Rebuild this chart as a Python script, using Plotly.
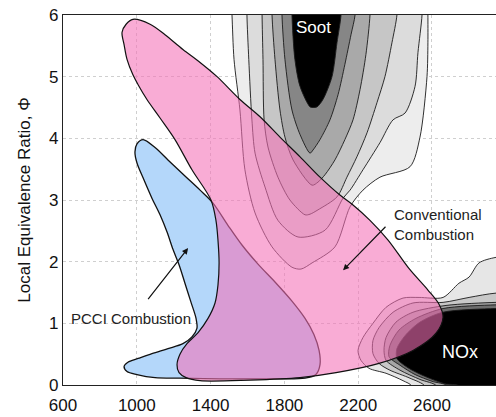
import plotly.graph_objects as go

# ---- axis ticks ----
x_ticks = [600, 1000, 1400, 1800, 2200, 2600, 3000]
y_ticks = [0, 1, 2, 3, 4, 5, 6]

# ---- soot contour levels (outer -> inner), boundary points (T [K], phi) ----
soot1_T = [1511, 1516, 1527, 1559, 1586, 1641, 1733, 1841, 1890, 1950, 2074, 2156, 2226, 2318, 2481, 2535, 2573, 2578, 2578, 2578]
soot1_phi = [6.3, 6.0, 5.28, 4.46, 3.49, 2.79, 2.24, 1.91, 1.88, 1.98, 2.24, 2.89, 3.16, 3.37, 3.54, 4.02, 5.0, 5.55, 6.0, 6.3]
soot2_T = [1597, 1597, 1607, 1624, 1641, 1695, 1765, 1874, 2020, 2118, 2156, 2226, 2318, 2389, 2454, 2508, 2524, 2546, 2546]
soot2_phi = [6.3, 6.0, 5.28, 4.30, 3.76, 3.21, 2.67, 2.40, 2.51, 3.03, 3.16, 3.49, 3.93, 4.30, 4.41, 4.84, 5.39, 6.0, 6.3]
soot3_T = [1679, 1679, 1684, 1690, 1711, 1765, 1830, 1912, 1939, 1982, 2085, 2139, 2193, 2248, 2302, 2345, 2383, 2410, 2410]
soot3_phi = [6.3, 6.0, 5.28, 4.30, 3.86, 3.37, 3.0, 2.76, 2.77, 2.84, 3.05, 3.37, 3.70, 4.09, 4.58, 5.0, 5.55, 6.0, 6.3]
soot4_T = [1733, 1733, 1749, 1776, 1803, 1847, 1950, 1982, 2020, 2074, 2128, 2172, 2210, 2242, 2264, 2264]
soot4_phi = [6.3, 6.0, 5.28, 4.46, 4.02, 3.65, 3.24, 3.29, 3.41, 3.65, 3.98, 4.30, 4.79, 5.36, 6.0, 6.3]
soot5_T = [1787, 1787, 1803, 1841, 1885, 1939, 1955, 1993, 2047, 2091, 2128, 2161, 2183, 2183]
soot5_phi = [6.3, 6.0, 5.28, 4.46, 4.06, 3.76, 3.81, 3.98, 4.30, 4.71, 5.20, 5.68, 6.0, 6.3]
soot6_T = [1841, 1841, 1857, 1885, 1939, 1955, 1977, 2009, 2058, 2085, 2107, 2107]
soot6_phi = [6.3, 6.0, 5.28, 4.84, 4.51, 4.50, 4.51, 4.63, 5.0, 5.55, 6.0, 6.3]

# ---- NOx contour levels (outer -> inner) ----
nox1_T = [3100, 2947, 2855, 2801, 2746, 2660, 2530, 2443, 2351, 2280, 2226, 2199, 2215, 2259, 2351, 2443, 2492, 2492, 3100]
nox1_phi = [2.10, 2.07, 1.98, 1.75, 1.65, 1.42, 1.42, 1.41, 1.26, 1.0, 0.77, 0.56, 0.40, 0.27, 0.19, 0.07, -0.02, -0.3, -0.3]
nox2_T = [3100, 2947, 2801, 2660, 2497, 2389, 2313, 2280, 2280, 2313, 2372, 2481, 2562, 2562, 3100]
nox2_phi = [1.48, 1.49, 1.42, 1.34, 1.33, 1.18, 0.93, 0.72, 0.51, 0.35, 0.24, 0.11, -0.02, -0.3, -0.3]
nox3_T = [3100, 2947, 2676, 2497, 2405, 2351, 2340, 2351, 2427, 2535, 2627, 2627, 3100]
nox3_phi = [1.34, 1.34, 1.29, 1.18, 1.02, 0.77, 0.56, 0.40, 0.24, 0.09, -0.02, -0.3, -0.3]
nox4_T = [3100, 2947, 2660, 2513, 2421, 2372, 2367, 2427, 2508, 2600, 2687, 2687, 3100]
nox4_phi = [1.30, 1.30, 1.24, 1.08, 0.89, 0.64, 0.46, 0.32, 0.17, 0.06, -0.02, -0.3, -0.3]
nox5_T = [3100, 2947, 2660, 2535, 2454, 2410, 2410, 2470, 2562, 2670, 2752, 2752, 3100]
nox5_phi = [1.24, 1.24, 1.18, 1.02, 0.80, 0.59, 0.43, 0.28, 0.14, 0.02, -0.02, -0.3, -0.3]

# ---- PCCI combustion region ----
pcci_T = [1034, 1001, 990, 1001, 1034, 1082, 1126, 1164, 1196, 1229, 1261, 1294, 1321, 1326, 1299, 1250,
          1169, 1082, 1007, 952, 931, 947, 1001, 1099, 1234, 1451, 1722, 1912, 1971, 1993, 1988, 1960,
          1912, 1841, 1749, 1657, 1570, 1494, 1413, 1343, 1261, 1169, 1099, 1034]
pcci_phi = [3.98, 3.91, 3.78, 3.60, 3.36, 3.03, 2.76, 2.48, 2.20, 1.95, 1.65, 1.34, 1.08, 0.92, 0.78, 0.67,
            0.59, 0.51, 0.43, 0.37, 0.30, 0.22, 0.17, 0.12, 0.11, 0.10, 0.10, 0.11, 0.17, 0.33, 0.56, 0.82,
            1.08, 1.36, 1.67, 1.96, 2.27, 2.59, 2.95, 3.16, 3.39, 3.65, 3.85, 3.98]

# ---- Conventional combustion region ----
conv_T = [979, 1072, 1153, 1250, 1343, 1435, 1559, 1668, 1776, 1885, 1993, 2101, 2172, 2264, 2362, 2475,
          2578, 2638, 2660, 2622, 2497, 2313, 2080, 1885, 1614, 1343, 1267, 1229, 1218, 1234, 1272, 1332,
          1386, 1424, 1440, 1446, 1440, 1429, 1402, 1299, 1207, 1126, 1055, 1007, 979, 947, 931, 920, 942, 979]
conv_phi = [5.93, 5.85, 5.68, 5.44, 5.23, 5.00, 4.63, 4.35, 4.02, 3.70, 3.37, 3.08, 2.92, 2.67, 2.35, 1.89,
            1.54, 1.31, 1.10, 0.84, 0.56, 0.35, 0.20, 0.12, 0.08, 0.07, 0.12, 0.20, 0.33, 0.50, 0.67, 0.85,
            1.08, 1.33, 1.62, 1.98, 2.35, 2.67, 3.00, 3.49, 3.98, 4.33, 4.63, 4.87, 5.03, 5.28, 5.52, 5.72, 5.85, 5.93]

soot_levels = [(soot1_T, soot1_phi), (soot2_T, soot2_phi), (soot3_T, soot3_phi),
               (soot4_T, soot4_phi), (soot5_T, soot5_phi), (soot6_T, soot6_phi)]
soot_colors = ["#ededed", "#dcdcdc", "#c6c6c6", "#a9a9a9", "#868686", "#000000"]
nox_levels = [(nox1_T, nox1_phi), (nox2_T, nox2_phi), (nox3_T, nox3_phi),
              (nox4_T, nox4_phi), (nox5_T, nox5_phi)]
nox_colors = ["#e6e6e6", "#c8c8c8", "#a6a6a6", "#6e6e6e", "#000000"]

FONT = "Liberation Sans, Arial, sans-serif"
fig = go.Figure()

def region(xs, ys, fill, lw=0.9, lc="#1a1a1a", smooth=0.8):
    fig.add_trace(go.Scatter(
        x=xs, y=ys, mode="lines", fill="toself", fillcolor=fill,
        line=dict(color=lc, width=lw, shape="spline", smoothing=smooth),
        hoverinfo="skip", showlegend=False))

for (xs, ys), c in zip(soot_levels, soot_colors):
    region(xs, ys, c)
for (xs, ys), c in zip(nox_levels, nox_colors):
    region(xs, ys, c)

region(pcci_T, pcci_phi, "#b4d7fa", lw=1.3, lc="#111111", smooth=0.9)
region(conv_T, conv_phi, "rgba(245,112,182,0.58)", lw=1.2, lc="#111111", smooth=0.9)

annotations = [
    dict(x=1960, y=5.79, text="Soot", showarrow=False, font=dict(size=17, color="white", family=FONT)),
    dict(x=2752, y=0.53, text="NOx", showarrow=False, font=dict(size=18, color="white", family=FONT)),
    dict(x=971, y=1.08, text="PCCI Combustion", showarrow=False, font=dict(size=15, color="#222", family=FONT)),
    dict(x=2383, y=2.61, text="Conventional<br>Combustion", showarrow=False, xanchor="left", align="left",
         font=dict(size=15, color="#222", family=FONT)),
    dict(x=2118, y=1.86, ax=2356, ay=2.59, axref="x", ayref="y", xref="x", yref="y", text="",
         showarrow=True, arrowhead=2, arrowsize=1, arrowwidth=1.2, arrowcolor="#111"),
    dict(x=1278, y=2.22, ax=1055, ay=1.37, axref="x", ayref="y", xref="x", yref="y", text="",
         showarrow=True, arrowhead=2, arrowsize=1, arrowwidth=1.2, arrowcolor="#111"),
]

fig.update_layout(
    width=496, height=417,
    margin=dict(l=63, r=0, t=15, b=32, pad=0),
    paper_bgcolor="white", plot_bgcolor="white",
    font=dict(family=FONT, size=17, color="#111"),
    annotations=annotations,
    xaxis=dict(range=[600, 2947], tickvals=x_ticks, ticktext=[str(v) for v in x_ticks],
               showgrid=True, gridcolor="#cfcfcf", griddash="dot", gridwidth=1,
               zeroline=False, showline=True, linecolor="#222", linewidth=1.3, mirror=True,
               ticks="", tickfont=dict(size=17), ticklabelstandoff=4),
    yaxis=dict(range=[0, 6], tickvals=y_ticks, showgrid=True, gridcolor="#cfcfcf", griddash="dot",
               gridwidth=1, zeroline=False, showline=True, linecolor="#222", linewidth=1.3,
               ticks="", tickfont=dict(size=17),
               title=dict(text="Local Equivalence Ratio, Φ", font=dict(size=17), standoff=14)),
)

fig.write_html("out.html", config={"displayModeBar": False},
               post_script="document.body.style.margin='0';document.body.style.overflow='hidden';")
